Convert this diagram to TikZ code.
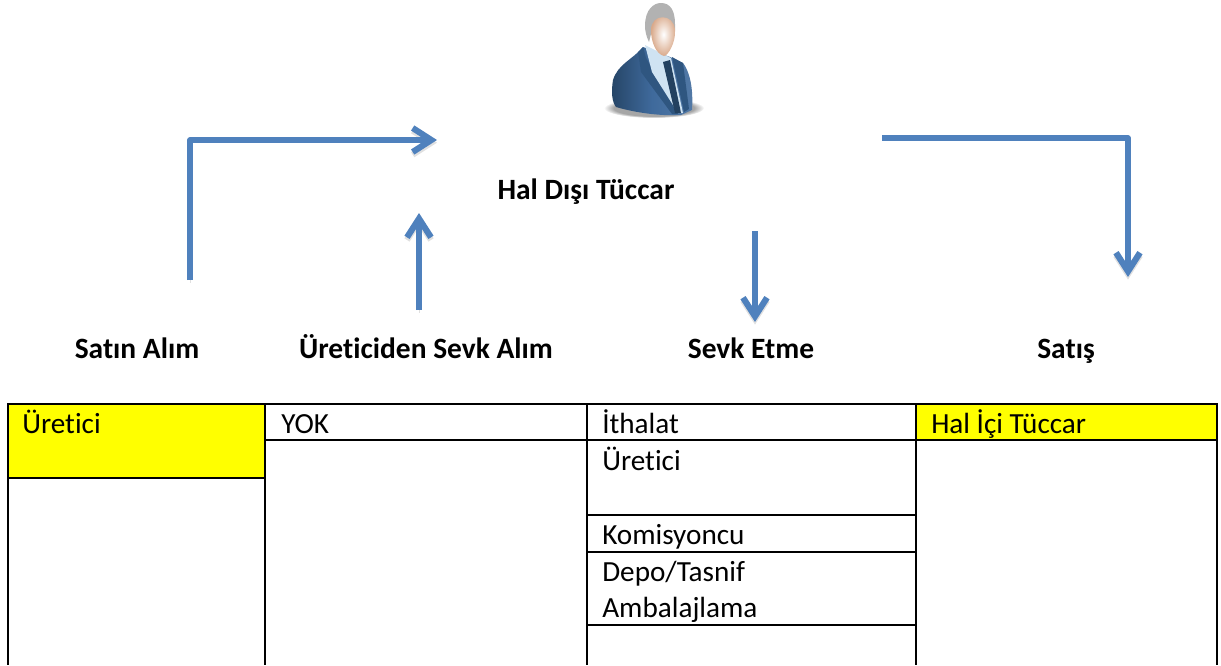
\documentclass[tikz,border=0pt]{standalone}
\usepackage{fontspec}
\setmainfont[Ligatures=NoCommon]{Carlito}
\usetikzlibrary{arrows.meta, positioning, fadings}
\definecolor{arrowblue}{HTML}{4F81BD}
\definecolor{suitblue}{HTML}{3F6A9C}
\definecolor{suitdark}{HTML}{2F5680}
\definecolor{cellyellow}{HTML}{FFFF00}
\definecolor{shirtblue}{HTML}{CFE3F2}
\definecolor{skin}{HTML}{D9A98A}
\tikzset{
    flow/.style={line width=4.3pt, arrowblue, line join=round,
        -{Straight Barb[length=14pt, width=18pt, line width=4.6pt]},
        preaction={draw=black, opacity=0.12, transform canvas={yshift=-2pt}}},
    title/.style={font=\bfseries\fontsize{22.1}{24}\selectfont, inner sep=0pt, anchor=base},
    cell/.style={font=\fontsize{21.9}{24}\selectfont, inner sep=0pt, anchor=base west},
}
\begin{document}
\begin{tikzpicture}[x=0.75pt, y=-0.75pt]
    \useasboundingbox (0,0) rectangle (1221,665);
    % the man
    \fill[black, opacity=0.35, path fading=circle with fuzzy edge 20 percent] (654,108) ellipse (50 and 10);
    \shade[left color=suitdark!80!black, right color=suitblue!90!white, middle color=suitblue]
        (643,47) .. controls (632,60) and (618,64) .. (613,80)
        .. controls (611,92) and (612,102) .. (616,107)
        .. controls (640,114) and (665,116) .. (681,115)
        -- (692,110) .. controls (693,95) and (692,75) .. (683,63) -- (670,57) -- cycle;
    \fill[suitdark] (643,47) -- (646,58) -- (678,114) -- (672,114) -- (641,72) -- (638,52) -- cycle;
    \fill[suitdark] (672,57) -- (683,63) -- (689,109) -- (684,112) -- cycle;
    \fill[shirtblue] (645,45) -- (671,58) -- (683,113) -- (678,113) -- (652,72) -- cycle;
    \fill[suitdark!75!black] (663,62) -- (670,60) -- (681,113) -- (675,113) -- cycle;
    \fill[black!30] (645,26) .. controls (645,9) and (654,3) .. (661,3)
        .. controls (670,3) and (675,10) .. (675,24) -- (675,30) -- (652,30)
        -- (649,42) .. controls (646,36) and (645,30) .. (645,26) -- cycle;
    \shade[inner color=white, outer color=skin] (651,30)
        .. controls (651,13) and (674,13) .. (675,30)
        .. controls (676,42) and (668,56) .. (664,56)
        .. controls (656,54) and (651,42) .. (651,30) -- cycle;

    % labels
    \node[title] (trader) at (586,199) {Hal Dışı Tüccar};
    \node[title] (purchase) at (137,358) {Satın Alım};
    \node[title] (direct) at (426,358) {Üreticiden Sevk Alım};
    \node[title] (shipping) at (751,358) {Sevk Etme};
    \node[title] (sale) at (1066,358) {Satış};

    % arrows
    \coordinate (a1) at (190,280);
    \coordinate (a2) at (437,140);
    \coordinate (b1) at (419,310);
    \coordinate (b2) at (419,213);
    \coordinate (c1) at (755,231);
    \coordinate (c2) at (755,322);
    \coordinate (d1) at (882,138);
    \coordinate (d2) at (1128,277);
    \draw[flow] (a1) |- (a2);
    \draw[flow] (b1) -- (b2);
    \draw[flow] (c1) -- (c2);
    \draw[flow] (d1) -| (d2);

    % table
    \fill[cellyellow] (8,404) rectangle (265,478);
    \fill[cellyellow] (916,404) rectangle (1217,440);
    \foreach \x in {8, 265, 587, 916, 1217} {
        \draw[line width=1.5pt] (\x,404) -- (\x,665);
    }
    \draw[line width=1.5pt] (7,404) -- (1218,404);
    \draw[line width=1.5pt] (265,440) -- (1217,440);
    \draw[line width=1.5pt] (8,478) -- (265,478);
    \foreach \y in {515, 552, 625} {
        \draw[line width=1.5pt] (587,\y) -- (916,\y);
    }
    \foreach \x/\y/\n/\t in {22/433/c1/Üretici, 281/433/c2/YOK, 602/433/c3/İthalat,
                             931/433/c4/Hal İçi Tüccar, 602/470/c5/Üretici,
                             602/544/c6/Komisyoncu, 602/581/c7/Depo\slash Tasnif,
                             602/617/c8/Ambalajlama} {
        \node[cell] (\n) at (\x,\y) {\t};
    }
\end{tikzpicture}
\end{document}
